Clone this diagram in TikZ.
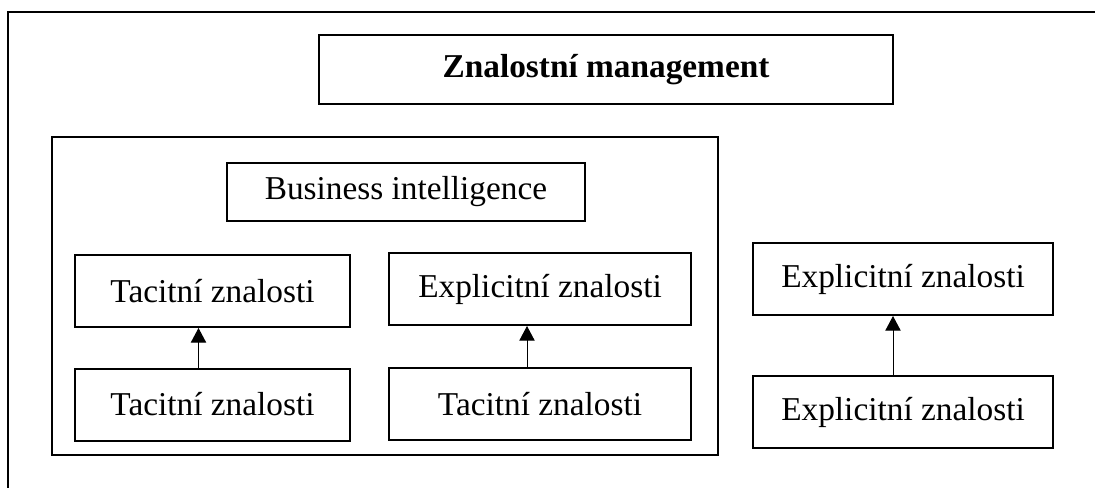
\documentclass[tikz,border=0pt]{standalone}
\usepackage{fontspec}
\setmainfont{Liberation Serif}
\usetikzlibrary{arrows.meta}
\begin{document}
\begin{tikzpicture}[x=0.75pt,y=-0.75pt,
  box/.style={draw, line width=1.5pt, inner sep=0pt, align=center,
    font=\fontsize{25}{30}\selectfont},
  smallbox/.style={box, minimum width=206.25pt, minimum height=54pt},
  widebox/.style={box, minimum width=226.5pt, minimum height=54pt},
  link/.style={line width=0.75pt, -{Triangle[width=11.5pt,length=11pt]}}]
\useasboundingbox (0,0) rectangle (1095,488);
% outer frame (its right and bottom sides run past the page)
\draw[line width=1.5pt] (8,520) -- (8,12) -- (1130,12);
% heading
\node[box, minimum width=430.5pt, minimum height=51.75pt,
  font=\fontsize{25}{30}\selectfont\bfseries] (km) at (606,69.5) {Znalostní management};
% business intelligence group
\node[box, minimum width=499.5pt, minimum height=238.5pt] (bi) at (385,296) {};
\node[box, minimum width=268.5pt, minimum height=43.5pt] (bititle) at (406,192) {Business intelligence};
\node[smallbox] (t1) at (212.5,291) {Tacitní znalosti};
\node[smallbox] (t2) at (212.5,404.5) {Tacitní znalosti};
\node[widebox] (e1) at (540,289) {Explicitní znalosti};
\node[widebox] (t3) at (540,404) {Tacitní znalosti};
% standalone pair on the right
\node[widebox, minimum width=225pt] (e2) at (903,279) {Explicitní znalosti};
\node[widebox, minimum width=225pt] (e3) at (903,412) {Explicitní znalosti};
% conversions
\draw[link] ([xshift=-10.5pt]t2.north) -- ([xshift=-10.5pt]t1.south);
\draw[link] ([xshift=-9.75pt]t3.north) -- ([xshift=-9.75pt]e1.south);
\draw[link] ([xshift=-7.5pt]e3.north) -- ([xshift=-7.5pt]e2.south);
\end{tikzpicture}
\end{document}
